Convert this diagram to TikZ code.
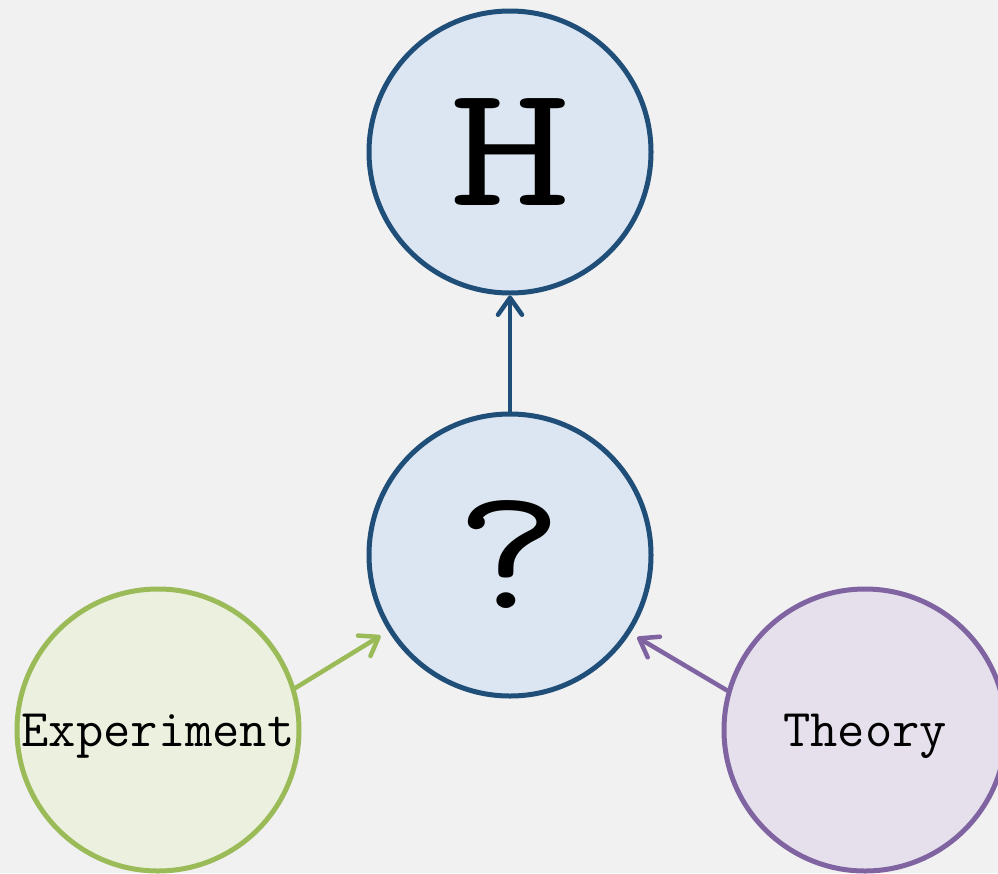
\documentclass[tikz,border=0pt]{standalone}
\usepackage{graphicx}
\usetikzlibrary{arrows.meta}
\definecolor{bgc}{RGB}{241,241,241}
\definecolor{bluel}{RGB}{31,78,121}
\definecolor{bluef}{RGB}{220,230,242}
\definecolor{greenl}{RGB}{155,187,89}
\definecolor{greenf}{RGB}{235,241,222}
\definecolor{purplel}{RGB}{128,100,162}
\definecolor{purplef}{RGB}{229,224,236}
\tikzset{
  bubble/.style={circle, minimum size=282pt, inner sep=0pt, line width=5pt, font=\ttfamily},
  bigtxt/.style={font=\fontsize{175}{175}\selectfont\ttfamily},
  smalltxt/.style={font=\fontsize{53}{53}\selectfont\ttfamily},
  conn/.style={line width=4.5pt, line cap=round, -{Straight Barb[round,length=17pt,width=24pt]}}
}
\begin{document}
\begin{tikzpicture}[x=1pt,y=-1pt]
\useasboundingbox (0,0) rectangle (998,873);
\clip (0,0) rectangle (998,873);
\fill[bgc] (0,0) rectangle (998,873);
\node[bubble, draw=bluel, fill=bluef, bigtxt] (H) at (510,152) {\scalebox{1.35}[1]{H}};
\node[bubble, draw=bluel, fill=bluef, bigtxt] (q) at (510,555) {\scalebox{1.2}[1]{?}};
\node[bubble, draw=greenl, fill=greenf, smalltxt] (exp) at (158,730) {\raisebox{-6pt}[\height][\depth]{Experiment}};
\node[bubble, draw=purplel, fill=purplef, smalltxt] (th) at (865,730) {\raisebox{-6pt}[\height][\depth]{Theory}};
\draw[conn, bluel] (q.north) -- (H.south);
\draw[conn, greenl, shorten >=9pt] (exp.17) -- (q.212.6);
\draw[conn, purplel, shorten >=8pt] (th.164) -- (q.327);
\end{tikzpicture}
\end{document}
